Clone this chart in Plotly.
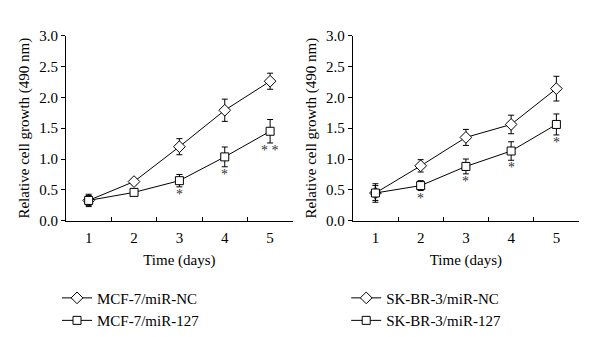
import plotly.graph_objects as go

days = [1, 2, 3, 4, 5]
day_labels = ["1", "2", "3", "4", "5"]
day_bounds = [0.5, 1.5, 2.5, 3.5, 4.5, 5.5]

# Left panel: MCF-7
mcf_nc = [0.33, 0.635, 1.20, 1.79, 2.26]
mcf_nc_err = [0.08, 0.05, 0.13, 0.18, 0.13]
mcf_127 = [0.33, 0.46, 0.65, 1.035, 1.45]
mcf_127_err = [0.10, 0.05, 0.10, 0.16, 0.19]
mcf_sig = ["", "", "*", "*", "* *"]

# Right panel: SK-BR-3
sk_nc = [0.45, 0.89, 1.35, 1.56, 2.14]
sk_nc_err = [0.12, 0.10, 0.13, 0.15, 0.20]
sk_127 = [0.45, 0.57, 0.88, 1.13, 1.56]
sk_127_err = [0.15, 0.08, 0.12, 0.15, 0.17]
sk_sig = ["", "*", "*", "*", "*"]

FONT = "Liberation Serif"
fig = go.Figure()

def add_series(x, y, err, name, symbol, xa, ya, legend):
    fig.add_trace(go.Scatter(
        x=x, y=y, name=name, mode="lines+markers",
        line=dict(color="black", width=1),
        marker=dict(symbol=symbol, size=9 if symbol == "diamond" else 8,
                    color="white", line=dict(color="black", width=1)),
        error_y=dict(type="data", array=err, color="black", thickness=1, width=3),
        xaxis=xa, yaxis=ya, legend=legend, showlegend=True,
    ))

add_series(days, mcf_nc, mcf_nc_err, "MCF-7/miR-NC", "diamond", "x", "y", "legend")
add_series(days, mcf_127, mcf_127_err, "MCF-7/miR-127", "square", "x", "y", "legend")
add_series(days, sk_nc, sk_nc_err, "SK-BR-3/miR-NC", "diamond", "x2", "y2", "legend2")
add_series(days, sk_127, sk_127_err, "SK-BR-3/miR-127", "square", "x2", "y2", "legend2")

for vals, errs, sig, xr, yr in [(mcf_127, mcf_127_err, mcf_sig, "x", "y"),
                                (sk_127, sk_127_err, sk_sig, "x2", "y2")]:
    for d, v, e, s in zip(days, vals, errs, sig):
        if s:
            fig.add_annotation(x=d, y=v - e, xref=xr, yref=yr, text=s,
                               showarrow=False, yanchor="top", yshift=2,
                               font=dict(family=FONT, size=14, color="#333333"))

# main x axes: line + inside ticks at day boundaries, title
xaxis_common = dict(
    range=[0.5, 5.5], tickvals=day_bounds, ticktext=[""] * len(day_bounds),
    ticks="inside", ticklen=4, tickcolor="black", tickwidth=1,
    showline=True, linecolor="black", linewidth=1, showgrid=False, zeroline=False,
    tickfont=dict(family=FONT, size=15, color="black"), automargin=True,
    title=dict(text="Time (days)", font=dict(family=FONT, size=15, color="black"), standoff=30),
)
# overlay x axes: day labels only
xlabel_common = dict(
    range=[0.5, 5.5], tickvals=days, ticktext=day_labels, ticks="outside", ticklen=3,
    tickcolor="rgba(0,0,0,0)",
    showline=False, showgrid=False, zeroline=False, side="bottom",
    tickfont=dict(family=FONT, size=15, color="black"),
)
yaxis_common = dict(
    range=[0, 3], tickvals=[0, 0.5, 1, 1.5, 2, 2.5, 3],
    ticktext=["0.0", "0.5", "1.0", "1.5", "2.0", "2.5", "3.0"],
    ticks="outside", ticklen=4, tickcolor="black", tickwidth=1,
    showline=True, linecolor="black", linewidth=1, showgrid=False, zeroline=False,
    tickfont=dict(family=FONT, size=15, color="black"), automargin=True,
    title=dict(text="Relative cell growth (490 nm)", font=dict(family=FONT, size=15, color="black"), standoff=5),
)

dl = [0.11, 0.488]
dr = [0.588, 0.965]
dy = [0.335, 0.914]

fig.update_layout(
    width=600, height=337, margin=dict(l=0, r=0, t=0, b=0),
    paper_bgcolor="white", plot_bgcolor="white",
    xaxis=dict(domain=dl, anchor="y", **xaxis_common),
    yaxis=dict(domain=dy, anchor="x", **yaxis_common),
    xaxis2=dict(domain=dr, anchor="y2", **xaxis_common),
    yaxis2=dict(domain=dy, anchor="x2", **yaxis_common),
    xaxis3=dict(overlaying="x", anchor="y", **xlabel_common),
    xaxis4=dict(overlaying="x2", anchor="y2", **xlabel_common),
    legend=dict(x=0.095, y=0.059, xanchor="left", yanchor="middle", bgcolor="rgba(0,0,0,0)",
                font=dict(family=FONT, size=15, color="black"), itemwidth=30, tracegroupgap=0),
    legend2=dict(x=0.577, y=0.059, xanchor="left", yanchor="middle", bgcolor="rgba(0,0,0,0)",
                 font=dict(family=FONT, size=15, color="black"), itemwidth=30, tracegroupgap=0),
)

# invisible traces to activate the label-only overlay axes
for xa, ya in [("x3", "y"), ("x4", "y2")]:
    fig.add_trace(go.Scatter(x=[0.5, 5.5], y=[None, None], xaxis=xa, yaxis=ya,
                             mode="markers", showlegend=False, hoverinfo="skip"))

fig.write_html("out.html")
